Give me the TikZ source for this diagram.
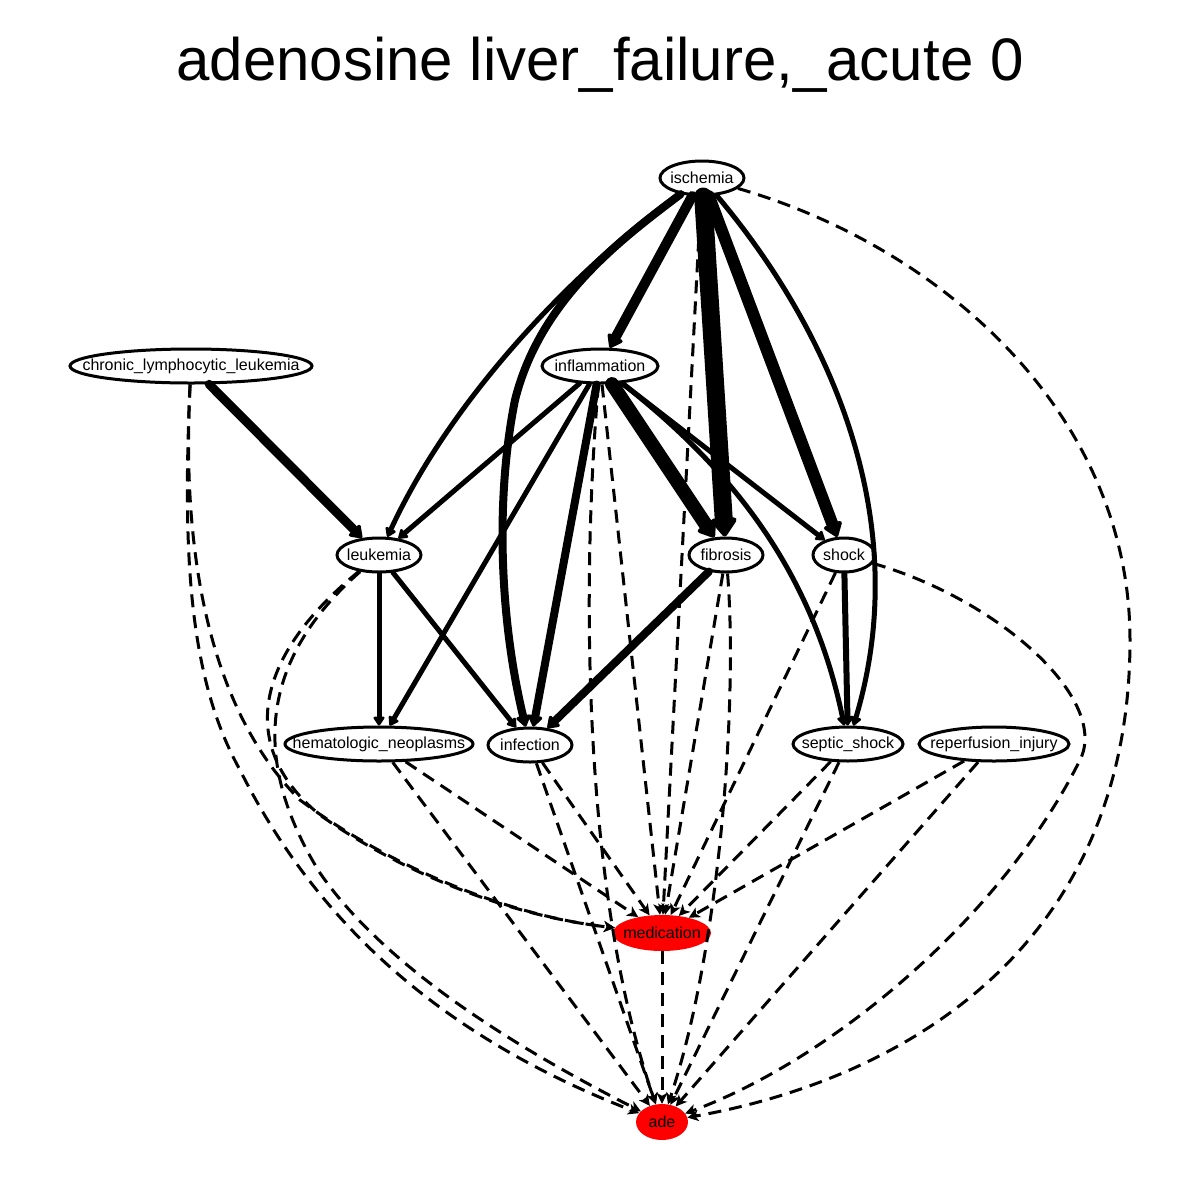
\documentclass[tikz,border=0pt]{standalone}
\usepackage{fontspec}
\setmainfont{Liberation Sans}
\usetikzlibrary{shapes.geometric,arrows.meta}
\newcommand{\ztxt}[1]{\makebox[0pt]{#1}}
\begin{document}
\begin{tikzpicture}[x=1pt,y=-1pt,
  nd/.style={ellipse, draw, fill=white, line width=3pt, inner sep=0pt, minimum height=34pt, font=\fontsize{16}{19}\selectfont},
  rd/.style={ellipse, fill=red, inner sep=0pt, minimum height=36pt, font=\fontsize{16}{19}\selectfont},
  se/.style={line width=#1, line cap=round, -{Triangle[round,length=6pt 0.8,width=6pt 1.3]}},
  de/.style={line width=3pt, dash pattern=on 13pt off 8pt, -{Stealth[length=11pt,width=11pt,inset=3pt]}},
]
\useasboundingbox (0,0) rectangle (1200,1200);
\node[font=\fontsize{60}{72}\selectfont, anchor=base] (title) at (600,80) {adenosine liver\_failure,\_acute 0};

\node[nd, minimum width=84pt] (isch) at (702,178) {\ztxt{ischemia}};
\node[nd, minimum width=116pt] (infl) at (600,366) {\ztxt{inflammation}};
\node[nd, minimum width=242pt] (cll) at (191,366) {\ztxt{chronic\_lymphocytic\_leukemia}};
\node[nd, minimum width=84pt] (leuk) at (379,555) {\ztxt{leukemia}};
\node[nd, minimum width=74pt] (fibrosis) at (726,555) {\ztxt{fibrosis}};
\node[nd, minimum width=62pt] (shock) at (844,555) {\ztxt{shock}};
\node[nd, minimum width=188pt] (hema) at (379,744) {\ztxt{hematologic\_neoplasms}};
\node[nd, minimum width=84pt] (infection) at (530,745) {\ztxt{infection}};
\node[nd, minimum width=110pt] (septic) at (848,744) {\ztxt{septic\_shock}};
\node[nd, minimum width=150pt] (reperf) at (994,744) {\ztxt{reperfusion\_injury}};
\node[rd, minimum width=98pt] (med) at (662,933) {\ztxt{medication}};
\node[rd, minimum width=52pt] (ade) at (662,1122) {\ztxt{ade}};

% solid edges
\draw[se=10pt] (isch) -- (infl);
\draw[se=5pt] (isch) .. controls (600,250) and (460,380) .. (leuk);
\draw[se=8pt] (isch) .. controls (620,240) and (540,300) .. (515,400) .. controls (495,500) and (500,620) .. (infection);
\draw[se=18pt] (isch) -- (fibrosis);
\draw[se=12pt] (isch) -- (shock);
\draw[se=5pt] (isch) .. controls (830,330) and (915,520) .. (septic);
\draw[se=5pt] (infl) -- (leuk);
\draw[se=5pt] (infl) -- (hema);
\draw[se=8pt] (infl) -- (infection);
\draw[se=14pt] (infl) -- (fibrosis);
\draw[se=5pt] (infl) -- (shock);
\draw[se=5pt] (infl) .. controls (720,460) and (810,560) .. (septic);
\draw[se=9pt] (cll) -- (leuk);
\draw[se=5pt] (leuk) -- (hema);
\draw[se=5pt] (leuk) -- (infection);
\draw[se=8pt] (fibrosis) -- (infection);
\draw[se=6pt] (shock) -- (septic);

% dashed edges
\draw[de] (isch) -- (med);
\draw[de] (isch) .. controls (950,250) and (1130,420) .. (1130,640) .. controls (1130,950) and (900,1080) .. (ade);
\draw[de] (infl) -- (med);
\draw[de] (infl) .. controls (580,600) and (585,900) .. (ade);
\draw[de] (cll) .. controls (182,560) and (190,680) .. (240,770) .. controls (320,930) and (450,1040) .. (ade);
\draw[de] (cll) .. controls (180,580) and (220,720) .. (300,800) .. controls (380,860) and (500,915) .. (med);
\draw[de] (leuk) .. controls (250,660) and (240,750) .. (320,815) .. controls (390,865) and (500,915) .. (med);
\draw[de] (leuk) .. controls (260,660) and (250,760) .. (320,873) .. controls (380,960) and (500,1040) .. (ade);
\draw[de] (hema) -- (med);
\draw[de] (hema) -- (ade);
\draw[de] (infection) -- (med);
\draw[de] (infection) -- (ade);
\draw[de] (fibrosis) -- (med);
\draw[de] (fibrosis) .. controls (738,700) and (720,950) .. (ade);
\draw[de] (shock) -- (med);
\draw[de] (shock) .. controls (1000,600) and (1110,700) .. (1080,760) .. controls (1000,920) and (830,1060) .. (ade);
\draw[de] (septic) -- (med);
\draw[de] (septic) -- (ade);
\draw[de] (reperf) -- (med);
\draw[de] (reperf) -- (ade);
\draw[de] (med) -- (ade);
\end{tikzpicture}
\end{document}
